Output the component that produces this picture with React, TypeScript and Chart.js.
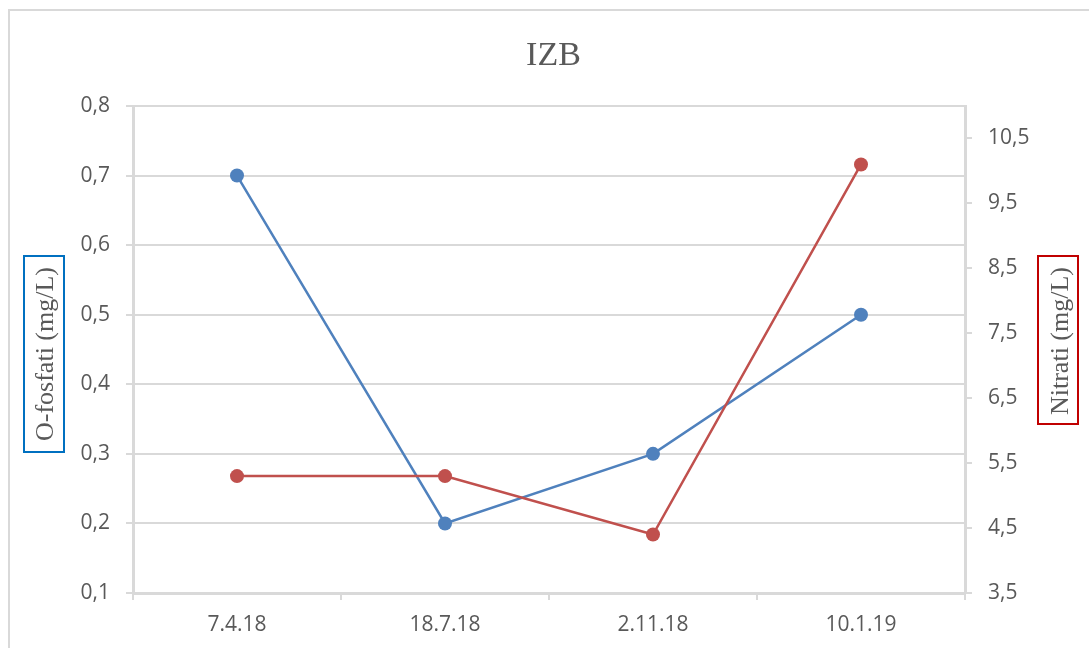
import React, { useEffect, useRef } from "react";
import { Chart, registerables } from "chart.js";

Chart.register(...registerables);

const categories = ["7.4.18", "18.7.18", "2.11.18", "10.1.19"];
const oFosfati = [0.7, 0.2, 0.3, 0.5];
const nitrati = [5.3, 5.3, 4.4, 10.1];
const leftTicks = [0.1, 0.2, 0.3, 0.4, 0.5, 0.6, 0.7, 0.8];
const rightTicks = [3.5, 4.5, 5.5, 6.5, 7.5, 8.5, 9.5, 10.5];

const chartTitle = "IZB";
const leftTitle = "O-fosfati (mg/L)";
const rightTitle = "Nitrati (mg/L)";

const GRID = "#d9d9d9";
const TEXT = "#595959";
const BLUE = "#4f81bd";
const RED = "#c0504d";
const TICK_FONT = { family: "'Open Sans', sans-serif", size: 21 };

const fmt = (v: number) => Number(v).toFixed(1).replace(".", ",");

const decor = {
  id: "decor",
  beforeDraw(chart: any) {
    const ctx = chart.ctx;
    ctx.save();
    ctx.fillStyle = "#ffffff";
    ctx.fillRect(0, 0, chart.width, chart.height);
    ctx.strokeStyle = GRID;
    ctx.lineWidth = 2;
    ctx.strokeRect(9, 10, chart.width + 20, chart.height + 20);
    ctx.restore();
  },
  afterDraw(chart: any) {
    const ctx = chart.ctx;
    ctx.save();
    // title
    ctx.fillStyle = TEXT;
    ctx.font = "34px 'Liberation Serif', serif";
    ctx.textAlign = "center";
    ctx.textBaseline = "alphabetic";
    ctx.fillText(chartTitle, 553.5, 65);

    // axis titles with boxes
    ctx.font = "26px 'Liberation Serif', serif";
    ctx.lineWidth = 2;
    ctx.strokeStyle = "#0070c0";
    ctx.strokeRect(24, 256, 40, 196);
    ctx.strokeStyle = "#c00000";
    ctx.strokeRect(1038, 256, 40, 168);

    ctx.save();
    ctx.translate(53, 354);
    ctx.rotate(-Math.PI / 2);
    ctx.fillText(leftTitle, 0, 0);
    ctx.restore();

    ctx.save();
    ctx.translate(1068, 341);
    ctx.rotate(-Math.PI / 2);
    ctx.fillText(rightTitle, 0, 0);
    ctx.restore();

    ctx.restore();
  },
};

export default function App() {
  const ref = useRef<HTMLCanvasElement | null>(null);

  useEffect(() => {
    if (!ref.current) return;
    const chart = new Chart(ref.current, {
      type: "line",
      data: {
        labels: categories,
        datasets: [
          {
            label: leftTitle,
            data: oFosfati,
            yAxisID: "y",
            borderColor: BLUE,
            backgroundColor: BLUE,
            borderWidth: 2.5,
            pointRadius: 7,
            pointBorderWidth: 0,
            pointBackgroundColor: BLUE,
            tension: 0,
            order: 2,
          },
          {
            label: rightTitle,
            data: nitrati,
            yAxisID: "y2",
            borderColor: RED,
            backgroundColor: RED,
            borderWidth: 2.5,
            pointRadius: 7,
            pointBorderWidth: 0,
            pointBackgroundColor: RED,
            tension: 0,
            order: 1,
          },
        ],
      },
      options: {
        animation: false,
        responsive: false,
        devicePixelRatio: 1,
        layout: { padding: { top: 106, left: 0, right: 0, bottom: 0 } },
        plugins: {
          legend: { display: false },
          tooltip: { enabled: false },
          title: { display: false },
        },
        scales: {
          x: {
            type: "category",
            offset: true,
            grid: {
              offset: true,
              drawOnChartArea: false,
              drawTicks: true,
              tickLength: 7,
              color: GRID,
              lineWidth: 2,
            },
            border: { color: GRID, width: 3 },
            ticks: { color: TEXT, font: TICK_FONT, padding: 12, maxRotation: 0 },
            afterFit: (s: any) => {
              s.height = 55;
            },
          },
          y: {
            position: "left",
            min: 0.1,
            max: 0.8,
            afterBuildTicks: (s: any) => {
              s.ticks = leftTicks.map((v) => ({ value: v }));
            },
            grid: { color: GRID, lineWidth: 2, tickLength: 7, drawTicks: true },
            border: { color: GRID, width: 3 },
            ticks: {
              color: TEXT,
              font: TICK_FONT,
              padding: 16,
              callback: (v: any) => fmt(v),
            },
            afterFit: (s: any) => {
              s.width = 133;
            },
          },
          y2: {
            position: "right",
            min: 3.5,
            max: 11,
            afterBuildTicks: (s: any) => {
              s.ticks = rightTicks.map((v) => ({ value: v }));
            },
            grid: {
              drawOnChartArea: false,
              color: GRID,
              lineWidth: 2,
              tickLength: 7,
              drawTicks: true,
            },
            border: { color: GRID, width: 3 },
            ticks: {
              color: TEXT,
              font: TICK_FONT,
              padding: 16,
              callback: (v: any) => fmt(v),
            },
            afterFit: (s: any) => {
              s.width = 124;
            },
          },
        },
      },
      plugins: [decor],
    } as any);
    return () => chart.destroy();
  }, []);

  return (
    <div style={{ position: "fixed", left: 0, top: 0, width: 1089, height: 648 }}>
      <canvas ref={ref} width={1089} height={648} style={{ display: "block" }} />
    </div>
  );
}
